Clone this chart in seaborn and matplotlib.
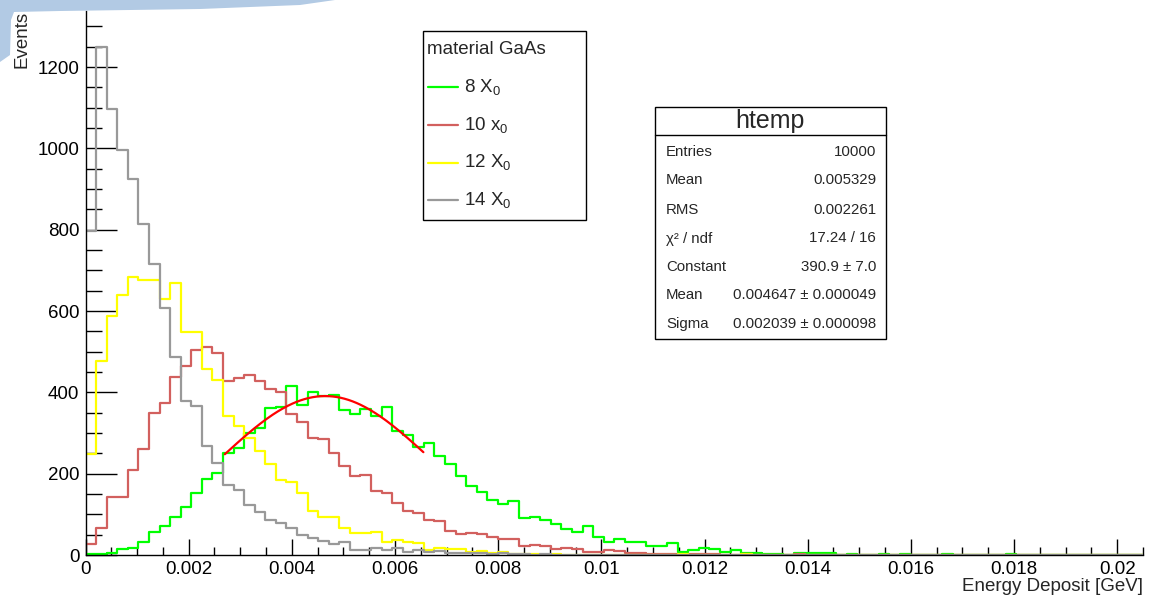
import numpy as np
import pandas as pd
import matplotlib
matplotlib.use("Agg")
import matplotlib.pyplot as plt
from matplotlib.patches import Rectangle, Polygon
from matplotlib.lines import Line2D
import seaborn as sns

# ---------------- data ----------------
n_bins = 100
x_min, x_max = 0.0, 0.0205

series_names = ["8 X0", "10 x0", "12 X0", "14 X0"]

counts_8X0 = [2, 2, 6, 15, 16, 31, 56, 71, 94, 119,
              152, 187, 201, 252, 263, 300, 312, 362, 364, 416,
              369, 402, 390, 394, 357, 347, 360, 342, 365, 304,
              294, 265, 276, 244, 223, 195, 170, 156, 135, 126,
              133, 90, 93, 86, 76, 63, 57, 71, 45, 33,
              39, 31, 31, 23, 23, 30, 8, 13, 16, 14,
              8, 12, 4, 4, 2, 2, 0, 4, 4, 4,
              4, 0, 3, 0, 0, 3, 0, 3, 0, 0,
              0, 3, 0, 0, 0, 0, 0, 3, 0, 0,
              0, 0, 0, 0, 0, 0, 0, 0, 0, 0]

counts_10x0 = [27, 66, 142, 142, 208, 261, 349, 374, 438, 464,
               505, 511, 498, 429, 436, 443, 429, 408, 402, 347,
               328, 287, 285, 250, 218, 195, 197, 158, 152, 127,
               107, 103, 87, 84, 58, 51, 55, 51, 45, 39,
               39, 22, 24, 21, 15, 18, 15, 7, 7, 12,
               9, 4, 4, 3, 3, 3, 1, 3, 2, 2,
               1, 1, 2, 0, 1, 0, 1, 2, 0, 0] + [0] * 30

counts_12X0 = [249, 476, 587, 639, 684, 677, 677, 630, 668, 548,
               548, 457, 430, 343, 317, 287, 256, 224, 185, 180,
               152, 107, 94, 94, 66, 53, 53, 57, 33, 37,
               31, 29, 12, 16, 15, 15, 8, 11, 5, 7,
               3, 3, 2, 1, 2, 1, 0, 1, 0, 0,
               0, 0, 0, 0, 0, 0, 2, 1, 0, 0,
               1, 0, 2, 0, 1, 0, 0, 0, 0, 0] + [0] * 30

counts_14X0 = [798, 1250, 1098, 997, 926, 814, 716, 607, 488, 378,
               367, 267, 227, 172, 161, 123, 106, 85, 78, 66,
               49, 41, 35, 27, 33, 12, 12, 16, 12, 16,
               8, 12, 8, 10, 6, 6, 4, 5, 3, 4,
               2, 3, 1, 2, 1, 1, 0, 0, 0, 0] + [0] * 50

# Gaussian fit shown in stats box
fit_const = 390.9
fit_mean = 0.004647
fit_sigma = 0.002039
fit_lo, fit_hi = 0.0027, 0.00655

x_tick_values = [0, 0.002, 0.004, 0.006, 0.008, 0.01, 0.012, 0.014, 0.016, 0.018, 0.02]
x_tick_labels = ["0", "0.002", "0.004", "0.006", "0.008", "0.01", "0.012", "0.014", "0.016", "0.018", "0.02"]
y_tick_values = [0, 200, 400, 600, 800, 1000, 1200]

stats_rows = [("Entries", "10000"), ("Mean", "0.005329"), ("RMS", "0.002261"),
              ("χ² / ndf", "17.24 / 16"), ("Constant", "390.9 ± 7.0"),
              ("Mean", "0.004647 ± 0.000049"), ("Sigma", "0.002039 ± 0.000098")]

colors = {"8 X0": "#00ff00", "10 x0": "#d2605e", "12 X0": "#ffff00", "14 X0": "#999999"}
legend_labels = {"8 X0": r"8 X$_\mathrm{0}$", "10 x0": r"10 x$_\mathrm{0}$",
                 "12 X0": r"12 X$_\mathrm{0}$", "14 X0": r"14 X$_\mathrm{0}$"}

# ---------------- build long table ----------------
edges = np.linspace(x_min, x_max, n_bins + 1)
centers = 0.5 * (edges[:-1] + edges[1:])
all_counts = {"8 X0": counts_8X0, "10 x0": counts_10x0, "12 X0": counts_12X0, "14 X0": counts_14X0}
frames = []
for name in series_names:
    frames.append(pd.DataFrame({"energy": centers, "count": np.asarray(all_counts[name], dtype=float),
                                "series": name}))
df = pd.concat(frames, ignore_index=True)

# ---------------- style ----------------
sns.set_style("white")
plt.rcParams["font.family"] = ["Liberation Sans", "DejaVu Sans"]
plt.rcParams["mathtext.fontset"] = "custom"
plt.rcParams["mathtext.rm"] = "Liberation Sans"
plt.rcParams["mathtext.it"] = "Liberation Sans:italic"
plt.rcParams["mathtext.bf"] = "Liberation Sans:bold"

FS = 13.5
W, H = 1153, 601
fig = plt.figure(figsize=(W / 100, H / 100), dpi=100)
fig.patch.set_facecolor("white")

ax_l, ax_r, ax_t, ax_b = 85.5, 1143, 11, 555
ax = fig.add_axes([ax_l / W, 1 - ax_b / H, (ax_r - ax_l) / W, (ax_b - ax_t) / H])
ax.set_facecolor("white")

for name in series_names:
    sub = df[df["series"] == name].reset_index(drop=True)
    sns.histplot(data=sub, x="energy", weights="count", bins=n_bins, binrange=(x_min, x_max),
                 element="step", fill=False, color=colors[name], linewidth=1.6, ax=ax)

fit_x = np.linspace(fit_lo, fit_hi, 200)
fit_df = pd.DataFrame({"energy": fit_x,
                       "value": fit_const * np.exp(-0.5 * ((fit_x - fit_mean) / fit_sigma) ** 2)})
sns.lineplot(data=fit_df, x="energy", y="value", color="#ff0000", linewidth=1.6, ax=ax)

ax.set_xlim(x_min, x_max)
ax.set_ylim(0, 1338)
ax.set_xlabel("")
ax.set_ylabel("")
for s in ["top", "right"]:
    ax.spines[s].set_visible(False)
for s in ["left", "bottom"]:
    ax.spines[s].set_color("black")
    ax.spines[s].set_linewidth(1.0)

ax.set_xticks(x_tick_values)
ax.set_xticklabels(x_tick_labels)
ax.set_xticks(np.arange(0, 0.02051, 0.0005), minor=True)
ax.set_yticks(y_tick_values)
ax.set_yticklabels([str(v) for v in y_tick_values])
ax.set_yticks(np.arange(0, 1338, 50), minor=True)
ax.tick_params(axis="x", which="both", bottom=True, top=False)
ax.tick_params(axis="y", which="both", left=True, right=False)
ax.tick_params(axis="x", which="major", direction="in", length=11.5, width=1, labelsize=FS, pad=4, colors="black")
ax.tick_params(axis="x", which="minor", direction="in", length=5.8, width=1, colors="black")
ax.tick_params(axis="y", which="major", direction="in", length=22, width=1, labelsize=FS, pad=4.5, colors="black")
ax.tick_params(axis="y", which="minor", direction="in", length=11.5, width=1, colors="black")
ax.grid(False)

# axis titles
fig.text(ax_r / W, 1 - 591 / H, "Energy Deposit [GeV]", ha="right", va="baseline", fontsize=FS)
fig.text(22 / W, 1 - 11 / H, "Events", rotation=90, ha="center", va="top", fontsize=FS)

# helper to convert pixel coordinates to figure coordinates
def fx(px):
    return px / W

def fy(py):
    return 1 - py / H

# legend box
lx0, ly0, lx1, ly1 = 423, 31, 586, 220
fig.patches.append(Rectangle((fx(lx0), fy(ly1)), fx(lx1) - fx(lx0), fy(ly0) - fy(ly1),
                             transform=fig.transFigure, fill=True, facecolor="white",
                             edgecolor="black", linewidth=1.0, zorder=5))
fig.text(fx(427), fy(49), "material GaAs", ha="left", va="center", fontsize=FS, zorder=6)
entry_y = [87, 125, 162.5, 200]
for name, yy in zip(series_names, entry_y):
    fig.lines.append(Line2D([fx(428), fx(458)], [fy(yy), fy(yy)], transform=fig.transFigure,
                            color=colors[name], linewidth=1.6, zorder=6))
    fig.text(fx(464), fy(yy), legend_labels[name], ha="left", va="center", fontsize=FS, zorder=6)

# stats box
sx0, sy0, sx1, sy1 = 655, 107, 886, 339
fig.patches.append(Rectangle((fx(sx0), fy(sy1)), fx(sx1) - fx(sx0), fy(sy0) - fy(sy1),
                             transform=fig.transFigure, fill=True, facecolor="white",
                             edgecolor="black", linewidth=1.0, zorder=5))
fig.lines.append(Line2D([fx(sx0), fx(sx1)], [fy(135), fy(135)], transform=fig.transFigure,
                        color="black", linewidth=1.0, zorder=6))
fig.text(fx(770), fy(121), "htemp", ha="center", va="center", fontsize=18, zorder=6)
row_y = [151.5, 180.5, 209.5, 238.5, 266.5, 295, 324]
for (lab, val), yy in zip(stats_rows, row_y):
    fig.text(fx(666), fy(yy), lab, ha="left", va="center", fontsize=10.8, zorder=6)
    fig.text(fx(876), fy(yy), val, ha="right", va="center", fontsize=10.8, zorder=6)

# window decoration in top-left corner
deco = [(0, 0), (335, 0), (300, 5), (200, 9), (60, 11), (14, 12), (11, 20), (10, 55), (0, 62)]
fig.patches.append(Polygon([(fx(a), fy(b)) for a, b in deco], closed=True, transform=fig.transFigure,
                           facecolor="#b2cae4", edgecolor="none", zorder=0))

fig.savefig("out.png", dpi=100, facecolor="white")
